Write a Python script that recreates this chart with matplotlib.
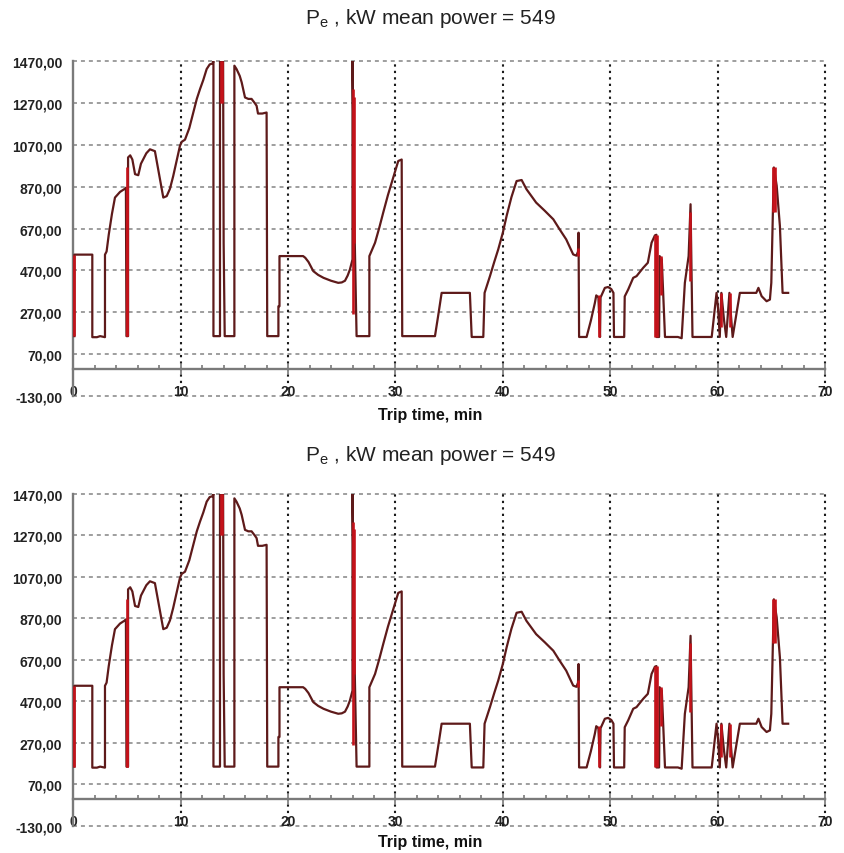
import numpy as np
import matplotlib
matplotlib.use("Agg")
from matplotlib import pyplot as plt
from matplotlib.ticker import FixedLocator, FuncFormatter

plt.rcParams['font.family'] = ['Liberation Sans', 'DejaVu Sans']

# trip time, min / engine power, kW
trip_time = [0.1, 0.1, 1.77, 1.77, 2.2, 2.5, 2.95, 2.95, 3.1, 3.3, 3.6, 3.88, 4.35, 4.8, 4.9,
             4.95, 5.1, 5.1, 5.3, 5.5, 5.75, 6.05, 6.3, 6.5, 6.8, 7.14, 7.6, 7.9, 8.1, 8.38,
             8.7, 9.0, 9.3, 9.6, 9.93, 10.1, 10.4, 10.8, 11.17, 11.5, 11.8, 12.1, 12.42, 12.7,
             12.98, 13.05, 13.05, 13.66, 13.66, 13.95, 14.0, 14.1, 15.0, 15.0, 15.2, 15.5,
             15.68, 15.99, 16.3, 16.6, 16.9, 17.07, 17.2, 17.6, 18.0, 18.06, 19.1, 19.1, 19.2,
             19.2, 21.4, 21.6, 21.9, 22.35, 22.8, 23.3, 24.0, 24.67, 25.0, 25.3, 25.55, 25.76,
             26.0, 26.0, 26.2, 26.38, 27.57, 27.57, 28.1, 28.5, 28.86, 29.3, 29.8, 30.26, 30.58,
             30.63, 33.68, 34.0, 34.3, 36.93, 37.1, 38.18, 38.3, 38.8, 39.2, 39.57, 40.0, 40.35,
             40.8, 41.28, 41.75, 42.2, 43.1, 43.9, 44.7, 45.3, 45.9, 46.55, 46.85, 47.0, 47.05,
             47.1, 47.8, 48.2, 48.57, 48.7, 48.9, 49.05, 49.1, 49.5, 49.8, 50.1, 50.3, 50.35,
             51.3, 51.35, 51.67, 52.14, 52.45, 53.07, 53.5, 53.85, 54.16, 54.3, 54.3, 54.55,
             54.6, 54.8, 55.1, 56.3, 56.65, 56.95, 57.3, 57.48, 57.66, 59.45, 59.9, 60.05, 60.2,
             60.35, 60.6, 60.8, 61.1, 61.25, 61.4, 62.07, 63.6, 63.8, 64.1, 64.56, 64.87, 65.0,
             65.24, 65.5, 65.8, 66.05, 66.57]
power = [155, 545, 545, 150, 150, 155, 150, 545, 560, 640, 740, 818, 845, 860, 865,
         155, 155, 1010, 1020, 1000, 930, 925, 980, 1000, 1030, 1049, 1040, 955, 900, 818,
         825, 860, 920, 990, 1065, 1085, 1095, 1150, 1225, 1290, 1337, 1380, 1433, 1455,
         1460, 1470, 155, 155, 1470, 1470, 600, 155, 155, 1449, 1433, 1400,
         1369, 1297, 1290, 1290, 1270, 1257, 1220, 1220, 1225, 155, 155, 298, 298,
         538, 538, 530, 510, 466, 448, 434, 420, 410, 412, 420, 445, 474,
         522, 1470, 634, 155, 155, 538, 602, 675, 746, 830, 914, 993, 1000,
         155, 155, 260, 362, 362, 151, 151, 362, 442, 510, 570, 650, 730,
         820, 897, 902, 858, 794, 755, 714, 665, 618, 546, 540, 560, 650,
         151, 151, 230, 314, 350, 340, 151, 340, 386, 390, 380, 362, 151,
         151, 345, 378, 434, 442, 482, 506, 602, 637, 640, 151, 151,
         538, 522, 151, 151, 145, 410, 538, 786, 151, 151, 362, 282, 151,
         362, 230, 151, 362, 250, 151, 362, 362, 386, 346, 322, 330, 410,
         962, 875, 682, 362, 362]

# bright red vertical strokes over the trace
red_time = [0.1, 4.98, 5.02, 13.72, 13.88, 26.05, 26.1, 46.98, 48.95, 54.2, 54.35, 54.7,
            57.45, 60.3, 61.15, 65.2, 65.3]
red_low = [155, 155, 155, 1270, 1270, 260, 600, 540, 151, 151, 151, 350, 420, 200, 200, 750, 750]
red_high = [545, 962, 870, 1470, 1470, 1337, 1300, 575, 350, 640, 640, 540, 750, 362, 362, 962, 962]

title = r"$\mathregular{P_e}$ , kW mean power = 549"
y_ticks = np.arange(-130, 1471, 200)
x_ticks = np.arange(0, 71, 10)

fig = plt.figure(figsize=(8.45, 8.54), dpi=100)

# (left, bottom, width, height) in figure fractions, title y, xlabel y (axes coords)
panels = [
    ((73.3 / 845, 1 - 396.7 / 854, 751.7 / 845, 334.4 / 854), 1 - 18 / 854, -0.055),
    ((73.3 / 845, 1 - 826.7 / 854, 751.7 / 845, 331.7 / 854), 1 - 456 / 854, -0.048),
]

for rect, title_y, xlab_y in panels:
    ax = fig.add_axes(rect)
    ax.plot(trip_time, power, color='#5e1a1a', lw=1.6, zorder=3)
    ax.vlines(red_time, red_low, red_high, color='#c4121a', lw=1.9, zorder=4)

    ax.set_xlim(0, 70)
    ax.set_ylim(-130, 1470)

    for s in ['top', 'right']:
        ax.spines[s].set_visible(False)
    ax.spines['bottom'].set_position(('data', 0))
    for s in ['bottom', 'left']:
        ax.spines[s].set_color('#7a7a7a')
        ax.spines[s].set_linewidth(1.7)

    ax.set_yticks(y_ticks)
    ax.yaxis.set_major_formatter(FuncFormatter(lambda v, p: f"{v:.2f}".replace('.', ',')))
    ax.tick_params(axis='y', length=0, pad=8, labelsize=10, labelcolor='#222222')
    for lab in ax.get_yticklabels():
        lab.set_fontweight('bold')

    ax.set_xticks(x_ticks)
    ax.xaxis.set_minor_locator(FixedLocator(np.arange(2, 70, 2)))
    ax.tick_params(axis='x', which='major', direction='inout', length=8, width=1.2,
                   color='#7a7a7a', pad=7, labelsize=10, labelcolor='#222222')
    ax.tick_params(axis='x', which='minor', direction='in', length=3, width=1.2, color='#7a7a7a')
    for lab in ax.get_xticklabels():
        lab.set_fontweight('bold')

    for v in y_ticks:
        ax.axhline(v, color='#969696', lw=1.3, ls=(0, (2.2, 2.2)), zorder=1, clip_on=False)
    for t in x_ticks[1:]:
        ax.axvline(t, color='#1a1a1a', lw=1.5, ls=(0, (1.1, 2.0)), zorder=1, clip_on=False)

    ax.text(0.4745, xlab_y, "Trip time, min", transform=ax.transAxes, ha='center', va='center',
            fontsize=11.5, fontweight='bold', color='#111111')
    fig.text(430 / 845, title_y, title, ha='center', va='center', fontsize=15, color='#222222')

fig.savefig("out.png", dpi=100)
